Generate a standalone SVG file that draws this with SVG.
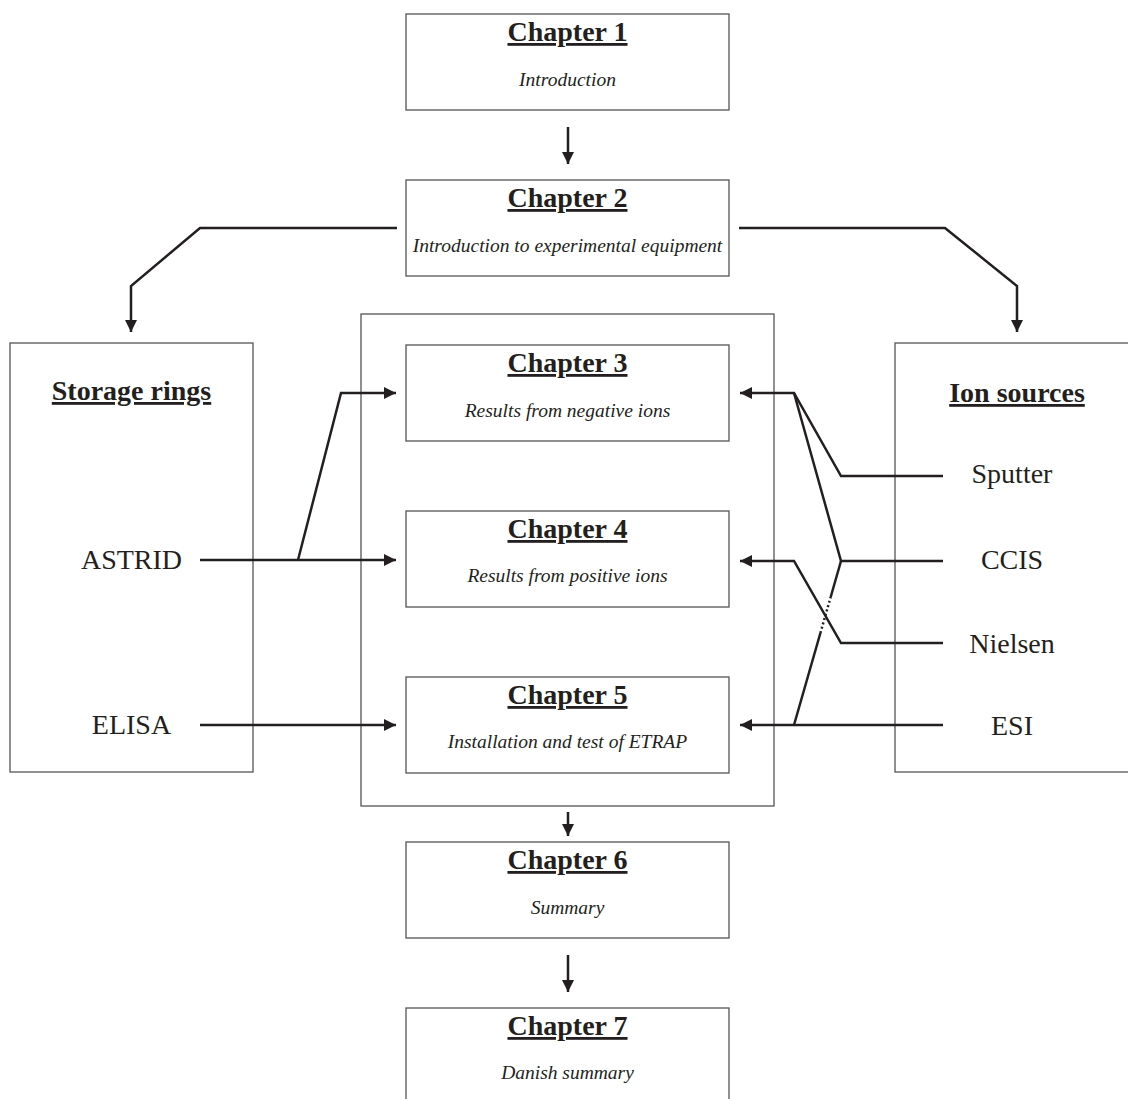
<svg xmlns="http://www.w3.org/2000/svg" width="1128" height="1099" viewBox="0 0 1128 1099">
<defs>
<marker id="ah" markerUnits="userSpaceOnUse" markerWidth="13" markerHeight="12" refX="12" refY="6" orient="auto">
<path d="M0,0 L12,6 L0,12 z" fill="#231f20"/>
</marker>
</defs>
<style>
.box{fill:#fff;stroke:#555;stroke-width:1.3}
.frame{fill:none;stroke:#555;stroke-width:1.3}
.ttl{font-family:"Liberation Serif","Times New Roman",serif;font-weight:bold;font-size:28px;text-anchor:middle;text-decoration:underline;fill:#231f20}
.sub{font-family:"Liberation Serif","Times New Roman",serif;font-style:italic;font-size:19.5px;text-anchor:middle;fill:#231f20}
.lbl{font-family:"Liberation Serif","Times New Roman",serif;font-size:28px;text-anchor:middle;fill:#231f20}
.c{fill:none;stroke:#231f20;stroke-width:2.5;stroke-linejoin:miter}
.a{marker-end:url(#ah)}
.dot{fill:none;stroke:#231f20;stroke-width:2.5;stroke-dasharray:2 2.5}
</style>
<rect width="1128" height="1099" fill="#fff"/>

<g id="center-frame"><rect class="frame" x="361" y="314" width="413" height="492"/></g>

<g id="storage-rings">
<rect class="box" x="10" y="343" width="243" height="429"/>
<text class="ttl" x="131.5" y="400">Storage rings</text>
<text class="lbl" x="131.5" y="569">ASTRID</text>
<text class="lbl" x="131.5" y="734">ELISA</text>
</g>

<g id="ion-sources">
<rect class="box" x="895" y="343" width="245" height="429"/>
<text class="ttl" x="1017" y="402">Ion sources</text>
<text class="lbl" x="1012" y="483">Sputter</text>
<text class="lbl" x="1012" y="569">CCIS</text>
<text class="lbl" x="1012" y="653">Nielsen</text>
<text class="lbl" x="1012" y="735">ESI</text>
</g>

<g id="ch1">
<rect class="box" x="406" y="14" width="323" height="96"/>
<text class="ttl" x="567.5" y="41">Chapter 1</text>
<text class="sub" x="567.5" y="86">Introduction</text>
</g>
<g id="ch2">
<rect class="box" x="406" y="180" width="323" height="96"/>
<text class="ttl" x="567.5" y="207">Chapter 2</text>
<text class="sub" x="567.5" y="252">Introduction to experimental equipment</text>
</g>
<g id="ch3">
<rect class="box" x="406" y="345" width="323" height="96"/>
<text class="ttl" x="567.5" y="372">Chapter 3</text>
<text class="sub" x="567.5" y="417">Results from negative ions</text>
</g>
<g id="ch4">
<rect class="box" x="406" y="511" width="323" height="96"/>
<text class="ttl" x="567.5" y="538">Chapter 4</text>
<text class="sub" x="567.5" y="582">Results from positive ions</text>
</g>
<g id="ch5">
<rect class="box" x="406" y="677" width="323" height="96"/>
<text class="ttl" x="567.5" y="704">Chapter 5</text>
<text class="sub" x="567.5" y="748">Installation and test of ETRAP</text>
</g>
<g id="ch6">
<rect class="box" x="406" y="842" width="323" height="96"/>
<text class="ttl" x="567.5" y="869">Chapter 6</text>
<text class="sub" x="567.5" y="914">Summary</text>
</g>
<g id="ch7">
<rect class="box" x="406" y="1008" width="323" height="96"/>
<text class="ttl" x="567.5" y="1035">Chapter 7</text>
<text class="sub" x="567.5" y="1079">Danish summary</text>
</g>

<g id="connectors">
<line class="c a" x1="568" y1="127" x2="568" y2="164"/>
<polyline class="c a" points="397,228 200,228 131,286 131,332"/>
<polyline class="c a" points="739,228 945,228 1017,286 1017,332"/>
<line class="c a" x1="200" y1="560" x2="396" y2="560"/>
<polyline class="c a" points="298,560 341,393 396,393"/>
<line class="c a" x1="200" y1="725" x2="396" y2="725"/>
<polyline class="c a" points="943,476 841,476 794,393 740,393"/>
<polyline class="c" points="943,561 841,561 794,393"/>
<polyline class="c a" points="943,643 841,643 794,561 740,561"/>
<line class="c a" x1="943" y1="725" x2="740" y2="725"/>
<line class="c" x1="794" y1="725" x2="820.4" y2="633"/>
<line class="dot" x1="820.4" y1="633" x2="830.7" y2="597"/>
<line class="c" x1="830.7" y1="597" x2="841" y2="561"/>
<line class="c a" x1="568" y1="812" x2="568" y2="836"/>
<line class="c a" x1="568" y1="955" x2="568" y2="992"/>
</g>
</svg>
